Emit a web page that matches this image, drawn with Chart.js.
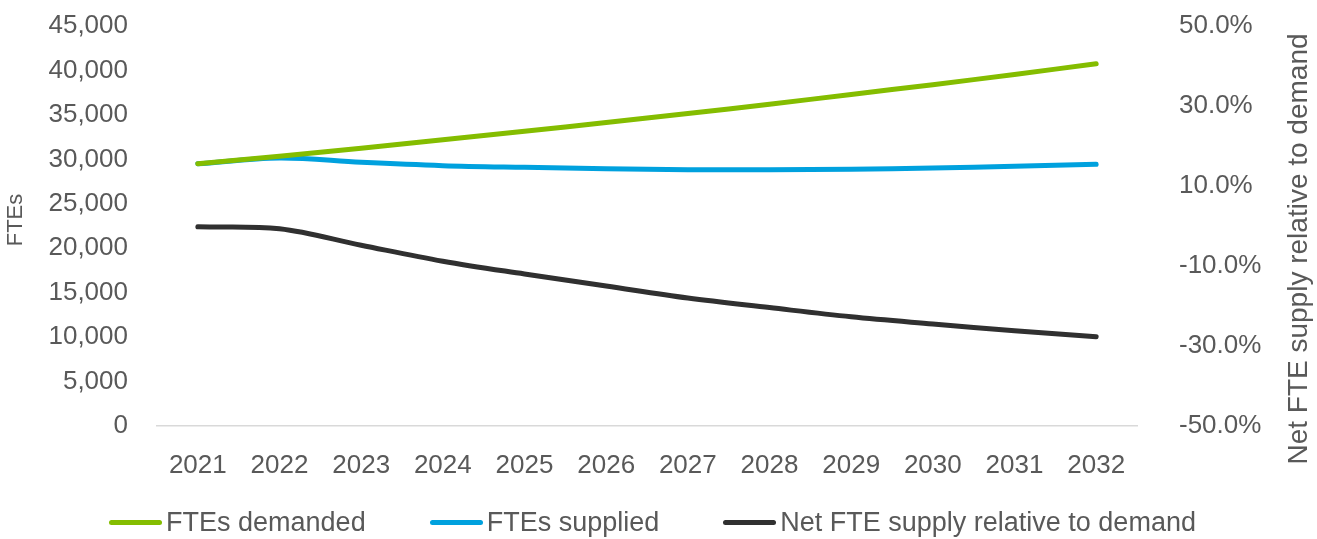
<!DOCTYPE html>
<html>
<head>
<meta charset="utf-8">
<script src="https://cdn.jsdelivr.net/npm/chart.js@4.4.1/dist/chart.umd.min.js"></script>
<style>
  html, body { margin: 0; padding: 0; background: #fff; }
  #wrap { position: relative; width: 1317px; height: 539px; }
  #legend {
    position: absolute; left: 0; top: 505px; width: 1317px; height: 34px;
    display: flex; justify-content: center; align-items: center;
    font-family: "Liberation Sans", Arial, sans-serif; font-size: 27px; color: #595959;
    padding-right: 12px; box-sizing: border-box;
  }
  #legend .item { display: flex; align-items: center; margin: 0 32px; }
  #legend .swatch { width: 53px; height: 5px; border-radius: 3px; margin-right: 4px; }
</style>
</head>
<body>
<div id="wrap">
  <canvas id="chart" width="1317" height="539"></canvas>
  <div id="legend"></div>
</div>
<script>
// values
const years = ["2021", "2022", "2023", "2024", "2025", "2026", "2027", "2028", "2029", "2030", "2031", "2032"];
const demanded = [29500, 30350, 31250, 32200, 33150, 34150, 35150, 36200, 37300, 38400, 39550, 40750];
const supplied = [29500, 30150, 29660, 29290, 29100, 28950, 28840, 28840, 28880, 29025, 29210, 29440];
const netSupply = [-0.2, -0.7, -4.8, -8.8, -12.0, -15.0, -18.0, -20.4, -22.7, -24.5, -26.2, -27.7];

const textColor = "#595959";
const fontFamily = '"Liberation Sans", Arial, sans-serif';

// axis titles, placed like the original
const axisTitles = {
  id: "axisTitles",
  afterDraw(chart) {
    const ctx = chart.ctx;
    ctx.save();
    ctx.fillStyle = textColor;
    ctx.textAlign = "center";
    ctx.textBaseline = "middle";
    ctx.font = "22px " + fontFamily;
    ctx.translate(16, 220);
    ctx.rotate(-Math.PI / 2);
    ctx.fillText("FTEs", 0, 0);
    ctx.restore();

    ctx.save();
    ctx.fillStyle = textColor;
    ctx.textAlign = "center";
    ctx.textBaseline = "middle";
    ctx.font = "28px " + fontFamily;
    ctx.translate(1299, 249);
    ctx.rotate(-Math.PI / 2);
    ctx.fillText("Net FTE supply relative to demand", 0, 0);
    ctx.restore();
  }
};

// keep the tick padding from pushing the plot area down
function fitY(width) {
  return scale => {
    scale.width = width;
    scale.paddingTop = 0;
    scale.paddingBottom = 0;
  };
}

const chart = new Chart(document.getElementById("chart"), {
  type: "line",
  data: {
    labels: years,
    datasets: [
      {
        label: "FTEs demanded",
        data: demanded,
        borderColor: "#84BD00",
        backgroundColor: "#84BD00",
        yAxisID: "y"
      },
      {
        label: "FTEs supplied",
        data: supplied,
        borderColor: "#00A1DE",
        backgroundColor: "#00A1DE",
        yAxisID: "y"
      },
      {
        label: "Net FTE supply relative to demand",
        data: netSupply,
        borderColor: "#303030",
        backgroundColor: "#303030",
        yAxisID: "y1"
      }
    ]
  },
  options: {
    responsive: false,
    animation: false,
    layout: { padding: { top: 26, bottom: 53, left: 0, right: 0 } },
    elements: {
      line: { borderWidth: 5, tension: 0.35, borderCapStyle: "round", borderJoinStyle: "round" },
      point: { radius: 0 }
    },
    plugins: {
      legend: { display: false },
      tooltip: { enabled: false }
    },
    scales: {
      x: {
        offset: true,
        grid: { display: false, drawTicks: false },
        border: { color: "#D9D9D9", width: 1.5 },
        ticks: { color: textColor, font: { family: fontFamily, size: 26 }, padding: 24, maxRotation: 0 },
        afterFit(scale) { scale.height = 60; scale.paddingLeft = 0; scale.paddingRight = 0; }
      },
      y: {
        position: "left",
        min: 0,
        max: 45000,
        grid: { display: false, drawTicks: false },
        border: { display: false },
        ticks: {
          stepSize: 5000,
          color: textColor,
          font: { family: fontFamily, size: 26 },
          padding: 29,
          callback: v => v.toLocaleString("en-US")
        },
        afterFit: fitY(157)
      },
      y1: {
        position: "right",
        min: -50,
        max: 50,
        grid: { display: false, drawTicks: false },
        border: { display: false },
        ticks: {
          stepSize: 20,
          color: textColor,
          font: { family: fontFamily, size: 26 },
          padding: 42,
          callback: v => v.toFixed(1) + "%"
        },
        afterFit: fitY(180)
      }
    }
  },
  plugins: [axisTitles]
});

// legend built from the chart's datasets
const legend = document.getElementById("legend");
chart.data.datasets.forEach(ds => {
  const item = document.createElement("div");
  item.className = "item";
  const sw = document.createElement("span");
  sw.className = "swatch";
  sw.style.background = ds.borderColor;
  const txt = document.createElement("span");
  txt.textContent = ds.label;
  item.appendChild(sw);
  item.appendChild(txt);
  legend.appendChild(item);
});
</script>
</body>
</html>
